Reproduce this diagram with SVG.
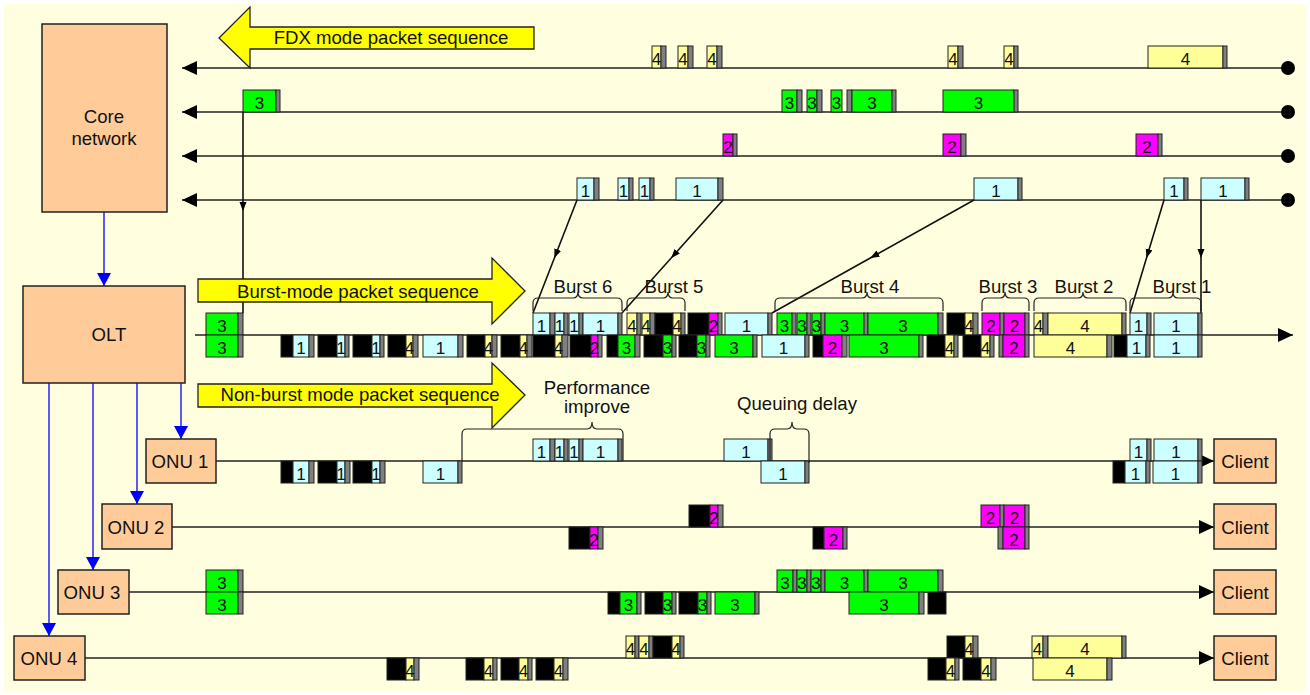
<svg xmlns="http://www.w3.org/2000/svg" width="1310" height="695" viewBox="0 0 1310 695">
<style>
.bg{fill:#FFFFE0}
.box{fill:#FFCC99;stroke:#222;stroke-width:1.5}
.lbl{font-family:"Liberation Sans",Arial,sans-serif;font-size:18.6px;fill:#111;text-anchor:middle}
.pk rect{stroke:#222;stroke-width:1}
.pk text{font-family:"Liberation Sans",Arial,sans-serif;font-size:17px;fill:#111;text-anchor:middle}
.p1{fill:#CCFFFF}.p2{fill:#FF00FF}.p3{fill:#00FF00}.p4{fill:#FFFF99}.bk{fill:#000}.br{fill:#808080}
.ln{stroke:#222;stroke-width:1.3;fill:none}
.dl{stroke:#111;stroke-width:1.6;fill:none}
.blue{stroke:#0000FF;stroke-width:1.3;fill:none}
.ya{fill:#FFFF00;stroke:#222;stroke-width:1.3}
.brace{fill:none;stroke:#222;stroke-width:1.2}
</style>
<defs>
<marker id="ab" markerUnits="userSpaceOnUse" markerWidth="14" markerHeight="14" refX="13" refY="7" orient="auto"><path d="M0,0 L13,7 L0,14 Z" fill="#0000FF"/></marker>
<marker id="ak" markerUnits="userSpaceOnUse" markerWidth="16" markerHeight="14" refX="15" refY="7" orient="auto"><path d="M0,0 L15,7 L0,14 Z" fill="#000"/></marker>
<marker id="am" markerUnits="userSpaceOnUse" markerWidth="10" markerHeight="8" refX="9" refY="3.5" orient="auto"><path d="M0,0 L9,3.5 L0,7 Z" fill="#000"/></marker>
</defs>
<rect class="bg" x="4" y="4" width="1302" height="687"/>

<g id="connectors">
<line class="blue" x1="104" y1="212" x2="104" y2="286" marker-end="url(#ab)"/>
<line class="blue" x1="181" y1="383" x2="181" y2="439" marker-end="url(#ab)"/>
<line class="blue" x1="137" y1="383" x2="137" y2="504" marker-end="url(#ab)"/>
<line class="blue" x1="93" y1="383" x2="93" y2="570" marker-end="url(#ab)"/>
<line class="blue" x1="49" y1="383" x2="49" y2="636" marker-end="url(#ab)"/>
<line class="ln" x1="1288" y1="68" x2="182" y2="68" marker-end="url(#ak)"/>
<line class="ln" x1="1288" y1="112" x2="182" y2="112" marker-end="url(#ak)"/>
<line class="ln" x1="1288" y1="156" x2="182" y2="156" marker-end="url(#ak)"/>
<line class="ln" x1="1288" y1="200" x2="182" y2="200" marker-end="url(#ak)"/>
<circle cx="1288" cy="68" r="7" fill="#000"/>
<circle cx="1288" cy="112" r="7" fill="#000"/>
<circle cx="1288" cy="156" r="7" fill="#000"/>
<circle cx="1288" cy="200" r="7" fill="#000"/>
<line class="ln" x1="195" y1="335" x2="1293" y2="335" marker-end="url(#ak)"/>
<line class="ln" x1="216" y1="461" x2="1214" y2="461" marker-end="url(#ak)"/>
<line class="ln" x1="172" y1="527" x2="1214" y2="527" marker-end="url(#ak)"/>
<line class="ln" x1="129" y1="592" x2="1214" y2="592" marker-end="url(#ak)"/>
<line class="ln" x1="85" y1="658" x2="1214" y2="658" marker-end="url(#ak)"/>
<polyline class="dl" points="243,112 243,211 243,313" marker-mid="url(#am)"/>
<polyline class="dl" points="577,200 554.4,258 533,313" marker-mid="url(#am)"/>
<polyline class="dl" points="723,200 671.2,258 622,313" marker-mid="url(#am)"/>
<polyline class="dl" points="974,200 870.3,258 772,313" marker-mid="url(#am)"/>
<polyline class="dl" points="1164,200 1146.5,258 1130,313" marker-mid="url(#am)"/>
<polyline class="dl" points="1201,200 1201,258 1201,313" marker-mid="url(#am)"/>
</g>

<g id="core-network"><rect class="box" x="42" y="24" width="125" height="188"/><text class="lbl" x="104" y="123">Core</text><text class="lbl" x="104" y="145">network</text></g>
<g id="olt"><rect class="box" x="23" y="286" width="162" height="97"/><text class="lbl" x="109" y="341">OLT</text></g>
<g id="onu1"><rect class="box" x="146" y="439" width="70" height="44"/><text class="lbl" x="180" y="468">ONU 1</text></g>
<g id="onu2"><rect class="box" x="102" y="504" width="70" height="45"/><text class="lbl" x="136" y="534">ONU 2</text></g>
<g id="onu3"><rect class="box" x="58" y="570" width="71" height="44"/><text class="lbl" x="92" y="599">ONU 3</text></g>
<g id="onu4"><rect class="box" x="14" y="636" width="71" height="44"/><text class="lbl" x="49" y="665">ONU 4</text></g>
<g id="client1"><rect class="box" x="1214" y="439" width="62" height="44"/><text class="lbl" x="1245" y="468">Client</text></g>
<g id="client2"><rect class="box" x="1214" y="504" width="62" height="45"/><text class="lbl" x="1245" y="534">Client</text></g>
<g id="client3"><rect class="box" x="1214" y="570" width="62" height="44"/><text class="lbl" x="1245" y="599">Client</text></g>
<g id="client4"><rect class="box" x="1214" y="636" width="62" height="44"/><text class="lbl" x="1245" y="665">Client</text></g>

<g id="fdx-arrow"><path class="ya" d="M219,38 L250,7 L250,27 L534,27 L534,49 L250,49 L250,68 Z"/><text class="lbl" x="391" y="44">FDX mode packet sequence</text></g>
<g id="burst-arrow"><path class="ya" d="M198,279 L492,279 L492,258 L525,291 L492,324 L492,302 L198,302 Z"/><text class="lbl" x="358" y="298">Burst-mode packet sequence</text></g>
<g id="nonburst-arrow"><path class="ya" d="M198,384 L492,384 L492,363 L525,395 L492,428 L492,407 L198,407 Z"/><text class="lbl" x="360" y="401">Non-burst mode packet sequence</text></g>

<g id="fdx1" class="pk" transform="translate(0,46)">
<rect class="p4" x="652" width="9" height="22"/><rect class="br" x="661" width="5" height="22"/><text x="656.5" y="18.5">4</text>
<rect class="p4" x="678" width="10" height="22"/><rect class="br" x="688" width="5" height="22"/><text x="683" y="18.5">4</text>
<rect class="p4" x="707" width="10" height="22"/><rect class="br" x="717" width="5" height="22"/><text x="712" y="18.5">4</text>
<rect class="p4" x="948" width="10" height="22"/><rect class="br" x="958" width="5" height="22"/><text x="953" y="18.5">4</text>
<rect class="p4" x="1004" width="10" height="22"/><rect class="br" x="1014" width="4" height="22"/><text x="1009" y="18.5">4</text>
<rect class="p4" x="1148" width="75" height="22"/><rect class="br" x="1223" width="4" height="22"/><text x="1185.5" y="18.5">4</text>
</g>
<g id="fdx2" class="pk" transform="translate(0,90)">
<rect class="p3" x="243" width="33" height="22"/><rect class="br" x="276" width="4" height="22"/><text x="259.5" y="18.5">3</text>
<rect class="p3" x="782" width="15" height="22"/><rect class="br" x="797" width="5" height="22"/><text x="789.5" y="18.5">3</text>
<rect class="p3" x="807" width="10" height="22"/><rect class="br" x="817" width="5" height="22"/><text x="812" y="18.5">3</text>
<rect class="p3" x="831" width="11" height="22"/><text x="836.5" y="18.5">3</text>
<rect class="br" x="847" width="5" height="22"/>
<rect class="p3" x="852" width="40" height="22"/><rect class="br" x="892" width="4" height="22"/><text x="872" y="18.5">3</text>
<rect class="p3" x="943" width="71" height="22"/><rect class="br" x="1014" width="4" height="22"/><text x="978.5" y="18.5">3</text>
</g>
<g id="fdx3" class="pk" transform="translate(0,134)">
<rect class="p2" x="723" width="10" height="22"/><rect class="br" x="733" width="4" height="22"/><text x="728" y="18.5">2</text>
<rect class="p2" x="943" width="18" height="22"/><rect class="br" x="961" width="5" height="22"/><text x="952" y="18.5">2</text>
<rect class="p2" x="1136" width="22" height="22"/><rect class="br" x="1158" width="4" height="22"/><text x="1147" y="18.5">2</text>
</g>
<g id="fdx4" class="pk" transform="translate(0,178)">
<rect class="p1" x="577" width="17" height="22"/><rect class="br" x="594" width="5" height="22"/><text x="585.5" y="18.5">1</text>
<rect class="p1" x="618" width="11" height="22"/><rect class="br" x="629" width="4" height="22"/><text x="623.5" y="18.5">1</text>
<rect class="p1" x="639" width="11" height="22"/><rect class="br" x="650" width="4" height="22"/><text x="644.5" y="18.5">1</text>
<rect class="p1" x="676" width="42" height="22"/><rect class="br" x="718" width="5" height="22"/><text x="697" y="18.5">1</text>
<rect class="p1" x="974" width="44" height="22"/><rect class="br" x="1018" width="4" height="22"/><text x="996" y="18.5">1</text>
<rect class="p1" x="1164" width="20" height="22"/><rect class="br" x="1184" width="4" height="22"/><text x="1174" y="18.5">1</text>
<rect class="p1" x="1201" width="44" height="22"/><rect class="br" x="1245" width="4" height="22"/><text x="1223" y="18.5">1</text>
</g>

<g id="burst-upper" class="pk" transform="translate(0,313)">
<rect class="p3" x="206" width="32" height="22"/><rect class="br" x="238" width="5" height="22"/><text x="222" y="18.5">3</text>
<rect class="p1" x="533" width="17" height="22"/><rect class="br" x="550" width="5" height="22"/><text x="541.5" y="18.5">1</text>
<rect class="p1" x="555" width="9" height="22"/><rect class="br" x="564" width="4" height="22"/><text x="559.5" y="18.5">1</text>
<rect class="p1" x="569" width="10" height="22"/><rect class="br" x="579" width="4" height="22"/><text x="574" y="18.5">1</text>
<rect class="p1" x="583" width="35" height="22"/><rect class="br" x="618" width="4" height="22"/><text x="600.5" y="18.5">1</text>
<rect class="p4" x="627" width="10" height="22"/><rect class="br" x="637" width="4" height="22"/><text x="632" y="18.5">4</text>
<rect class="p4" x="642" width="8" height="22"/><rect class="br" x="650" width="5" height="22"/><text x="646" y="18.5">4</text>
<rect class="bk" x="655" width="18" height="22"/>
<rect class="p4" x="673" width="8" height="22"/><rect class="br" x="681" width="4" height="22"/><text x="677" y="18.5">4</text>
<rect class="bk" x="688" width="21" height="22"/>
<rect class="p2" x="709" width="9" height="22"/><rect class="br" x="718" width="4" height="22"/><text x="713.5" y="18.5">2</text>
<rect class="p1" x="725" width="43" height="22"/><rect class="br" x="768" width="4" height="22"/><text x="746.5" y="18.5">1</text>
<rect class="p3" x="777" width="15" height="22"/><rect class="br" x="792" width="4" height="22"/><text x="784.5" y="18.5">3</text>
<rect class="p3" x="797" width="10" height="22"/><rect class="br" x="807" width="4" height="22"/><text x="802" y="18.5">3</text>
<rect class="p3" x="812" width="9" height="22"/><rect class="br" x="821" width="4" height="22"/><text x="816.5" y="18.5">3</text>
<rect class="p3" x="825" width="39" height="22"/><rect class="br" x="864" width="4" height="22"/><text x="844.5" y="18.5">3</text>
<rect class="p3" x="868" width="70" height="22"/><rect class="br" x="938" width="5" height="22"/><text x="903" y="18.5">3</text>
<rect class="bk" x="947" width="18" height="22"/>
<rect class="p4" x="965" width="8" height="22"/><rect class="br" x="973" width="5" height="22"/><text x="969" y="18.5">4</text>
<rect class="p2" x="982" width="18" height="22"/><rect class="br" x="1000" width="4" height="22"/><text x="991" y="18.5">2</text>
<rect class="p2" x="1004" width="21" height="22"/><rect class="br" x="1025" width="4" height="22"/><text x="1014.5" y="18.5">2</text>
<rect class="p4" x="1034" width="9" height="22"/><rect class="br" x="1043" width="5" height="22"/><text x="1038.5" y="18.5">4</text>
<rect class="p4" x="1048" width="74" height="22"/><rect class="br" x="1122" width="4" height="22"/><text x="1085" y="18.5">4</text>
<rect class="p1" x="1130" width="17" height="22"/><rect class="br" x="1147" width="4" height="22"/><text x="1138.5" y="18.5">1</text>
<rect class="p1" x="1154" width="44" height="22"/><rect class="br" x="1198" width="4" height="22"/><text x="1176" y="18.5">1</text>
</g>
<g id="burst-lower" class="pk" transform="translate(0,335)">
<rect class="p3" x="206" width="32" height="22"/><rect class="br" x="238" width="5" height="22"/><text x="222" y="18.5">3</text>
<rect class="bk" x="281" width="12" height="22"/><rect class="p1" x="293" width="16" height="22"/><rect class="br" x="309" width="5" height="22"/><text x="301" y="18.5">1</text>
<rect class="bk" x="318" width="19" height="22"/><rect class="p1" x="337" width="8" height="22"/><rect class="br" x="345" width="4" height="22"/><text x="341" y="18.5">1</text>
<rect class="bk" x="353" width="19" height="22"/><rect class="p1" x="372" width="8" height="22"/><rect class="br" x="380" width="4" height="22"/><text x="376" y="18.5">1</text>
<rect class="bk" x="388" width="18" height="22"/><rect class="p4" x="406" width="7" height="22"/><rect class="br" x="413" width="5" height="22"/><text x="409.5" y="18.5">4</text>
<rect class="p1" x="423" width="35" height="22"/><rect class="br" x="458" width="5" height="22"/><text x="440.5" y="18.5">1</text>
<rect class="bk" x="467" width="18" height="22"/><rect class="p4" x="485" width="7" height="22"/><rect class="br" x="492" width="5" height="22"/><text x="488.5" y="18.5">4</text>
<rect class="bk" x="501" width="19" height="22"/><rect class="p4" x="520" width="7" height="22"/><rect class="br" x="527" width="5" height="22"/><text x="523.5" y="18.5">4</text>
<rect class="bk" x="533" width="22" height="22"/><rect class="p4" x="555" width="7" height="22"/><rect class="br" x="562" width="6" height="22"/><text x="558.5" y="18.5">4</text>
<rect class="bk" x="570" width="21" height="22"/><rect class="p2" x="591" width="7" height="22"/><rect class="br" x="598" width="4" height="22"/><text x="594.5" y="18.5">2</text>
<rect class="bk" x="607" width="11" height="22"/><rect class="p3" x="618" width="17" height="22"/><rect class="br" x="635" width="5" height="22"/><text x="626.5" y="18.5">3</text>
<rect class="bk" x="644" width="19" height="22"/><rect class="p3" x="663" width="9" height="22"/><rect class="br" x="672" width="4" height="22"/><text x="667.5" y="18.5">3</text>
<rect class="bk" x="679" width="18" height="22"/><rect class="p3" x="697" width="9" height="22"/><rect class="br" x="706" width="4" height="22"/><text x="701.5" y="18.5">3</text>
<rect class="p3" x="715" width="38" height="22"/><rect class="br" x="753" width="4" height="22"/><text x="734" y="18.5">3</text>
<rect class="p1" x="762" width="43" height="22"/><rect class="br" x="805" width="4" height="22"/><text x="783.5" y="18.5">1</text>
<rect class="bk" x="813" width="10" height="22"/><rect class="p2" x="823" width="19" height="22"/><rect class="br" x="842" width="5" height="22"/><text x="832.5" y="18.5">2</text>
<rect class="p3" x="849" width="70" height="22"/><rect class="br" x="919" width="4" height="22"/><text x="884" y="18.5">3</text>
<rect class="bk" x="927" width="18" height="22"/><rect class="p4" x="945" width="9" height="22"/><rect class="br" x="954" width="4" height="22"/><text x="949.5" y="18.5">4</text>
<rect class="bk" x="963" width="18" height="22"/><rect class="p4" x="981" width="9" height="22"/><rect class="br" x="990" width="4" height="22"/><text x="985.5" y="18.5">4</text>
<rect class="br" x="999" width="4" height="22"/><rect class="p2" x="1003" width="22" height="22"/><rect class="br" x="1025" width="4" height="22"/><text x="1014" y="18.5">2</text>
<rect class="p4" x="1034" width="73" height="22"/><rect class="br" x="1107" width="5" height="22"/><text x="1070.5" y="18.5">4</text>
<rect class="bk" x="1114" width="13" height="22"/><rect class="p1" x="1127" width="19" height="22"/><rect class="br" x="1146" width="4" height="22"/><text x="1136.5" y="18.5">1</text>
<rect class="p1" x="1154" width="44" height="22"/><rect class="br" x="1198" width="4" height="22"/><text x="1176" y="18.5">1</text>
</g>

<g id="onu1-upper" class="pk" transform="translate(0,439)">
<rect class="p1" x="533" width="17" height="22"/><rect class="br" x="550" width="5" height="22"/><text x="541.5" y="18.5">1</text>
<rect class="p1" x="555" width="9" height="22"/><rect class="br" x="564" width="4" height="22"/><text x="559.5" y="18.5">1</text>
<rect class="p1" x="569" width="10" height="22"/><rect class="br" x="579" width="4" height="22"/><text x="574" y="18.5">1</text>
<rect class="p1" x="583" width="35" height="22"/><rect class="br" x="618" width="4" height="22"/><text x="600.5" y="18.5">1</text>
<rect class="p1" x="724" width="44" height="22"/><rect class="br" x="768" width="4" height="22"/><text x="746" y="18.5">1</text>
<rect class="p1" x="1130" width="17" height="22"/><rect class="br" x="1147" width="4" height="22"/><text x="1138.5" y="18.5">1</text>
<rect class="p1" x="1154" width="44" height="22"/><rect class="br" x="1198" width="4" height="22"/><text x="1176" y="18.5">1</text>
</g>
<g id="onu1-lower" class="pk" transform="translate(0,461)">
<rect class="bk" x="281" width="12" height="22"/><rect class="p1" x="293" width="16" height="22"/><rect class="br" x="309" width="5" height="22"/><text x="301" y="18.5">1</text>
<rect class="bk" x="318" width="19" height="22"/><rect class="p1" x="337" width="8" height="22"/><rect class="br" x="345" width="5" height="22"/><text x="341" y="18.5">1</text>
<rect class="bk" x="353" width="19" height="22"/><rect class="p1" x="372" width="8" height="22"/><rect class="br" x="380" width="5" height="22"/><text x="376" y="18.5">1</text>
<rect class="p1" x="423" width="35" height="22"/><rect class="br" x="458" width="4" height="22"/><text x="440.5" y="18.5">1</text>
<rect class="p1" x="761" width="44" height="22"/><rect class="br" x="805" width="4" height="22"/><text x="783" y="18.5">1</text>
<rect class="bk" x="1113" width="12" height="22"/><rect class="p1" x="1125" width="21" height="22"/><rect class="br" x="1146" width="4" height="22"/><text x="1135.5" y="18.5">1</text>
<rect class="p1" x="1153" width="45" height="22"/><rect class="br" x="1198" width="4" height="22"/><text x="1175.5" y="18.5">1</text>
</g>
<g id="onu2-upper" class="pk" transform="translate(0,505)">
<rect class="bk" x="689" width="21" height="22"/><rect class="p2" x="710" width="8" height="22"/><rect class="br" x="718" width="5" height="22"/><text x="714" y="18.5">2</text>
<rect class="p2" x="981" width="19" height="22"/><rect class="br" x="1000" width="4" height="22"/><text x="990.5" y="18.5">2</text>
<rect class="p2" x="1004" width="21" height="22"/><rect class="br" x="1025" width="4" height="22"/><text x="1014.5" y="18.5">2</text>
</g>
<g id="onu2-lower" class="pk" transform="translate(0,527)">
<rect class="bk" x="569" width="21" height="22"/><rect class="p2" x="590" width="8" height="22"/><rect class="br" x="598" width="5" height="22"/><text x="594" y="18.5">2</text>
<rect class="bk" x="813" width="11" height="22"/><rect class="p2" x="824" width="19" height="22"/><rect class="br" x="843" width="4" height="22"/><text x="833.5" y="18.5">2</text>
<rect class="br" x="998" width="5" height="22"/><rect class="p2" x="1003" width="22" height="22"/><rect class="br" x="1025" width="4" height="22"/><text x="1014" y="18.5">2</text>
</g>
<g id="onu3-upper" class="pk" transform="translate(0,570)">
<rect class="p3" x="206" width="32" height="22"/><rect class="br" x="238" width="5" height="22"/><text x="222" y="18.5">3</text>
<rect class="p3" x="777" width="16" height="22"/><rect class="br" x="793" width="4" height="22"/><text x="785" y="18.5">3</text>
<rect class="p3" x="797" width="10" height="22"/><rect class="br" x="807" width="4" height="22"/><text x="802" y="18.5">3</text>
<rect class="p3" x="811" width="10" height="22"/><rect class="br" x="821" width="4" height="22"/><text x="816" y="18.5">3</text>
<rect class="p3" x="825" width="39" height="22"/><rect class="br" x="864" width="4" height="22"/><text x="844.5" y="18.5">3</text>
<rect class="p3" x="868" width="70" height="22"/><rect class="br" x="938" width="5" height="22"/><text x="903" y="18.5">3</text>
</g>
<g id="onu3-lower" class="pk" transform="translate(0,592)">
<rect class="p3" x="206" width="32" height="22"/><rect class="br" x="238" width="5" height="22"/><text x="222" y="18.5">3</text>
<rect class="bk" x="608" width="12" height="22"/><rect class="p3" x="620" width="17" height="22"/><rect class="br" x="637" width="4" height="22"/><text x="628.5" y="18.5">3</text>
<rect class="bk" x="645" width="18" height="22"/><rect class="p3" x="663" width="9" height="22"/><rect class="br" x="672" width="4" height="22"/><text x="667.5" y="18.5">3</text>
<rect class="bk" x="679" width="19" height="22"/><rect class="p3" x="698" width="9" height="22"/><rect class="br" x="707" width="4" height="22"/><text x="702.5" y="18.5">3</text>
<rect class="p3" x="715" width="40" height="22"/><rect class="br" x="755" width="4" height="22"/><text x="735" y="18.5">3</text>
<rect class="p3" x="849" width="70" height="22"/><rect class="br" x="919" width="5" height="22"/><text x="884" y="18.5">3</text>
<rect class="bk" x="928" width="18" height="22"/>
</g>
<g id="onu4-upper" class="pk" transform="translate(0,636)">
<rect class="p4" x="626" width="9" height="22"/><rect class="br" x="635" width="4" height="22"/><text x="630.5" y="18.5">4</text>
<rect class="p4" x="639" width="10" height="22"/><rect class="br" x="649" width="4" height="22"/><text x="644" y="18.5">4</text>
<rect class="bk" x="653" width="19" height="22"/><rect class="p4" x="672" width="8" height="22"/><rect class="br" x="680" width="4" height="22"/><text x="676" y="18.5">4</text>
<rect class="bk" x="947" width="18" height="22"/><rect class="p4" x="965" width="8" height="22"/><rect class="br" x="973" width="5" height="22"/><text x="969" y="18.5">4</text>
<rect class="p4" x="1032" width="11" height="22"/><rect class="br" x="1043" width="5" height="22"/><text x="1037.5" y="18.5">4</text>
<rect class="p4" x="1048" width="74" height="22"/><rect class="br" x="1122" width="4" height="22"/><text x="1085" y="18.5">4</text>
</g>
<g id="onu4-lower" class="pk" transform="translate(0,658)">
<rect class="bk" x="387" width="19" height="22"/><rect class="p4" x="406" width="8" height="22"/><rect class="br" x="414" width="5" height="22"/><text x="410" y="18.5">4</text>
<rect class="bk" x="466" width="18" height="22"/><rect class="p4" x="484" width="9" height="22"/><rect class="br" x="493" width="4" height="22"/><text x="488.5" y="18.5">4</text>
<rect class="bk" x="501" width="18" height="22"/><rect class="p4" x="519" width="9" height="22"/><rect class="br" x="528" width="4" height="22"/><text x="523.5" y="18.5">4</text>
<rect class="bk" x="536" width="18" height="22"/><rect class="p4" x="554" width="9" height="22"/><rect class="br" x="563" width="5" height="22"/><text x="558.5" y="18.5">4</text>
<rect class="bk" x="928" width="18" height="22"/><rect class="p4" x="946" width="9" height="22"/><rect class="br" x="955" width="4" height="22"/><text x="950.5" y="18.5">4</text>
<rect class="bk" x="963" width="18" height="22"/><rect class="p4" x="981" width="10" height="22"/><rect class="br" x="991" width="5" height="22"/><text x="986" y="18.5">4</text>
<rect class="p4" x="1033" width="74" height="22"/><rect class="br" x="1107" width="5" height="22"/><text x="1070" y="18.5">4</text>
</g>

<g id="braces">
<path class="brace" d="M533,311 L533,303 Q533,298 538,298 L573,298 Q578,298 578,292 Q578,298 583,298 L617,298 Q622,298 622,303 L622,311"/>
<path class="brace" d="M627,311 L627,303 Q627,298 632,298 L663,298 Q668,298 668,292 Q668,298 673,298 L680,298 Q685,298 685,303 L685,311"/>
<path class="brace" d="M775,311 L775,303 Q775,298 780,298 L862,298 Q867,298 867,292 Q867,298 872,298 L938,298 Q943,298 943,303 L943,311"/>
<path class="brace" d="M982,311 L982,303 Q982,298 987,298 L1000,298 Q1005,298 1005,292 Q1005,298 1010,298 L1024,298 Q1029,298 1029,303 L1029,311"/>
<path class="brace" d="M1034,311 L1034,303 Q1034,298 1039,298 L1078,298 Q1083,298 1083,292 Q1083,298 1088,298 L1121,298 Q1126,298 1126,303 L1126,311"/>
<path class="brace" d="M1130,311 L1130,303 Q1130,298 1135,298 L1168,298 Q1173,298 1173,292 Q1173,298 1178,298 L1196,298 Q1201,298 1201,303 L1201,311"/>
<path class="brace" d="M462,461 L462,434 Q462,429 467,429 L587,429 Q592,429 592,422 Q592,429 597,429 L618,429 Q623,429 623,434 L623,461"/>
<path class="brace" d="M770,461 L770,434 Q770,429 775,429 L787,429 Q792,429 792,422 Q792,429 797,429 L804,429 Q809,429 809,434 L809,463"/>
<text class="lbl" x="583" y="293">Burst 6</text>
<text class="lbl" x="674" y="293">Burst 5</text>
<text class="lbl" x="870" y="293">Burst 4</text>
<text class="lbl" x="1008" y="293">Burst 3</text>
<text class="lbl" x="1084" y="293">Burst 2</text>
<text class="lbl" x="1182" y="293">Burst 1</text>
<text class="lbl" x="597" y="394">Performance</text>
<text class="lbl" x="597" y="413">improve</text>
<text class="lbl" x="797" y="410">Queuing delay</text>
</g>
</svg>
